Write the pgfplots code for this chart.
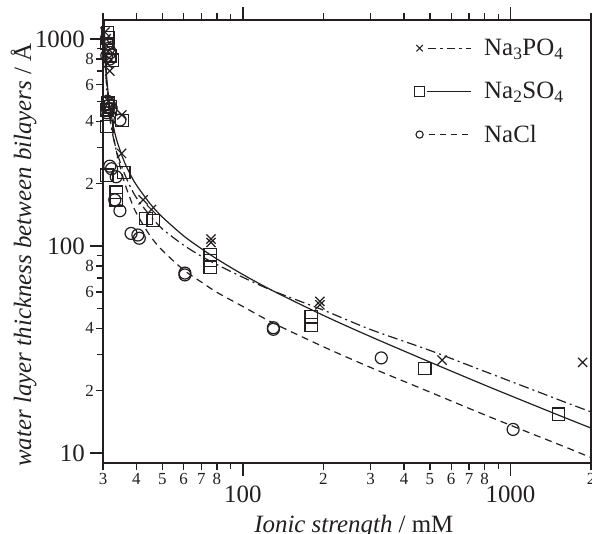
\documentclass[border=0pt]{standalone}
\usepackage{pgfplots}
\pgfplotsset{compat=1.18}
\usepackage{fontspec}
\setmainfont{Liberation Serif}
\definecolor{ink}{RGB}{35,31,32}
\begin{document}
\begin{tikzpicture}
\begin{axis}[
  xmode=log, ymode=log,
  scale only axis,
  width=488bp, height=443bp,
  xmin=30, xmax=2000, ymin=8.95, ymax=1235,
  axis line style={line width=1.6bp, color=ink},
  tick align=outside,
  tick style={line width=1.2bp, color=ink},
  major tick length=7bp, minor tick length=6bp,
  xtick={30,40,50,60,70,80,200,300,400,500,600,700,800,2000},
  xticklabels={3,4,5,6,7,8,2,3,4,5,6,7,8,2},
  minor xtick={90,900},
  extra x ticks={100,1000},
  extra x tick labels={100,1000},
  extra x tick style={major tick length=13bp, xticklabel style={font=\fontsize{25}{25}\selectfont, yshift=-7bp}},
  ytick={20,40,60,80,200,400,600,800},
  yticklabels={2,4,6,8,2,4,6,8},
  minor ytick={30,50,70,90,300,500,700,900},
  extra y ticks={10,100,1000},
  extra y tick labels={10,100,1000},
  extra y tick style={major tick length=13bp, yticklabel style={font=\fontsize{25}{25}\selectfont, xshift=-3bp}},
  xticklabel style={font=\fontsize{17}{17}\selectfont, text=ink},
  yticklabel style={font=\fontsize{17}{17}\selectfont, inner sep=2bp, text=ink},
  xlabel={\textit{Ionic strength} / mM},
  ylabel={\textit{water layer thickness between bilayers} / Å},
  xlabel style={font=\fontsize{25}{25}\selectfont, text=ink, at={(axis description cs:0.514,-0.158)}, anchor=base},
  ylabel style={font=\fontsize{25}{25}\selectfont, text=ink, at={(axis description cs:-0.1475,0.4695)}, anchor=base, rotate=0},
  legend style={draw=none, fill=none, at={(axis description cs:0.632,0.966)}, anchor=north west,
    font=\fontsize{25}{25}\selectfont, text=ink, row sep=21bp,
    /tikz/every odd column/.append style={column sep=7bp},
    nodes={inner xsep=6bp}},
  legend cell align=left,
]
% fitted curves
\addplot[ink, line width=1.2bp, dash pattern=on 10bp off 4bp on 2bp off 4bp, smooth,
  legend image code/.code={
    \draw[ink, line width=1.2bp, dash pattern=on 8bp off 4bp on 3bp off 4bp] (8bp,0bp) -- (51bp,0bp);
    \draw[ink, line width=1.1bp, solid] plot[mark=x, mark size=4.5bp] coordinates {(0bp,0bp)};
  }] coordinates {
(30.2,1315)(30.4,922)(30.6,750)(31,570)(31.5,464)(32,395)(33,321)(34,277)(36,225)(38,193)(40,171)(45,140)(50,121)(60,101)(70,89.2)(80,81.3)(100,70.6)(130,60.6)(200,49.0)(300,39.5)(500,31.3)(800,24.8)(1200,20.3)(1600,17.6)(2000,15.8)};
\addlegendentry{Na\textsubscript{3}PO\textsubscript{4}}
\addplot[ink, line width=1.2bp, solid, smooth,
  legend image code/.code={
    \draw[ink, line width=1.2bp, solid] (7bp,0bp) -- (51bp,0bp);
    \draw[ink, line width=1.1bp, solid] plot[mark=square, mark size=5bp] coordinates {(0bp,0bp)};
  }] coordinates {
(30.2,1461)(30.3,1188)(30.4,1025)(30.6,833)(31,641)(31.5,521)(32,449)(33,365)(34,315)(36,256)(38,221)(40,197)(45,160)(50,138)(60,112)(70,97.0)(80,86.5)(100,72.8)(130,60.6)(200,46.2)(300,36.5)(500,27.5)(800,21.3)(1200,17.2)(1600,14.8)(2000,13.2)};
\addlegendentry{Na\textsubscript{2}SO\textsubscript{4}}
\addplot[ink, line width=1.2bp, dash pattern=on 7bp off 5bp, smooth,
  legend image code/.code={
    \draw[ink, line width=1.2bp, dash pattern=on 6bp off 5bp] (9bp,0bp) -- (51bp,0bp);
    \draw[ink, line width=1.1bp, solid] plot[mark=o, mark size=3.6bp] coordinates {(0bp,0bp)};
  }] coordinates {
(30.2,1417)(30.4,984)(30.6,791)(31,609)(31.5,490)(32,413)(33,327)(34,271)(36,205)(38,168)(40,144)(45,112)(50,95.2)(60,76.7)(70,66.9)(80,59.7)(100,51.0)(130,42.4)(200,32.6)(300,25.9)(500,19.7)(800,15.3)(1200,12.4)(1600,10.7)(2000,9.5)};
\addlegendentry{NaCl}
% data points
\addplot[forget plot, only marks, mark=x, mark size=6.5bp, ink, mark options={line width=1.2bp, solid}] coordinates {
(30.5,1080)(30.8,1000)(31.0,930)(31.3,870)(31.6,810)(31.2,760)(31.8,700)(31.5,500)(32.0,470)(32.6,450)(35.3,430)(35.2,280)(42.4,167)(45.5,150)(76,108)(76,104)(194,54)(194,52)(555,28.1)(1860,27.4)};
\addplot[forget plot, only marks, mark=square, mark size=6.2bp, ink, mark options={line width=1.2bp, solid}] coordinates {
(31.2,1070)(31.4,1010)(31.0,950)(32.5,790)(31.8,830)(31.3,490)(32.0,470)(31.0,455)(35.3,403)(31.0,377)(31.0,220)(35.9,226)(33.6,182)(33.6,167)(43.4,136)(46.2,133)(75.5,91)(75.5,85)(75.5,79)(180,45.5)(180,41.5)(478,25.6)(1514,15.4)};
\addplot[forget plot, only marks, mark=o, mark size=6bp, ink, mark options={line width=1.2bp, solid}] coordinates {
(31.5,900)(32.0,860)(31.8,800)(31.0,830)(31.2,500)(31.7,480)(32.2,460)(31.0,440)(34.7,406)(31.8,243)(32.3,236)(33.6,216)(33.2,167)(34.7,148)(38.2,115)(40.5,113)(41,109)(60.7,74)(60.7,72.5)(130,40.3)(130,39.6)(329,28.8)(1023,13.0)};
\end{axis}
\pgfresetboundingbox
\useasboundingbox ([shift={(-103bp,-71bp)}]current axis.south west) rectangle ([shift={(1bp,20bp)}]current axis.north east);
\end{tikzpicture}
\end{document}
